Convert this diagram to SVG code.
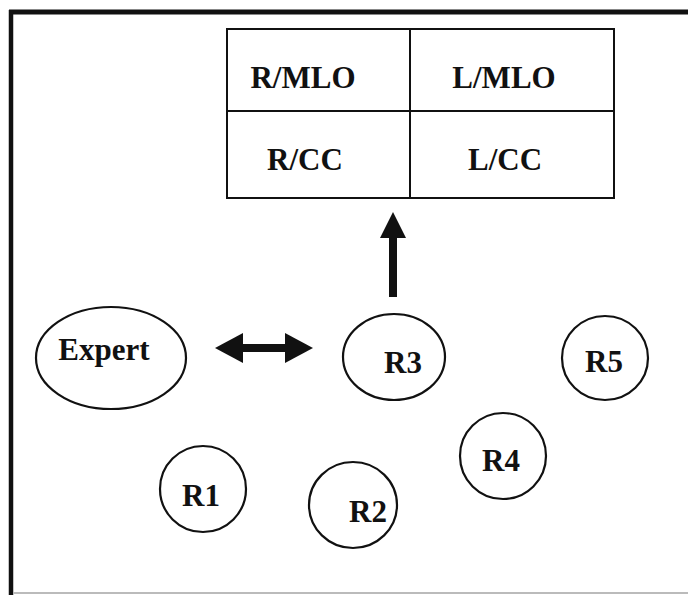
<svg xmlns="http://www.w3.org/2000/svg" width="688" height="595" viewBox="0 0 688 595">
<style>
.t{font-family:"Liberation Serif","Times New Roman",serif;font-weight:bold;font-size:31px;fill:#111;text-anchor:middle}
.n{fill:#fff;stroke:#111;stroke-width:2.2}
.g{stroke:#111;stroke-width:2;fill:none}
</style>
<rect width="688" height="595" fill="#fff"/>
<g id="frame">
<line x1="9" y1="12" x2="688" y2="12" stroke="#111" stroke-width="5"/>
<line x1="11" y1="10" x2="11" y2="595" stroke="#111" stroke-width="4.5"/>
<line x1="13" y1="593" x2="688" y2="593" stroke="#bbb" stroke-width="2"/>
</g>
<g id="views">
<rect class="g" x="227" y="29" width="387" height="169"/>
<line class="g" x1="410" y1="29" x2="410" y2="198"/>
<line class="g" x1="227" y1="111" x2="614" y2="111"/>
<text class="t" x="303" y="88">R/MLO</text>
<text class="t" x="504" y="88">L/MLO</text>
<text class="t" x="305" y="170">R/CC</text>
<text class="t" x="505" y="170">L/CC</text>
</g>
<g id="connectors" fill="#111">
<rect x="389" y="234" width="8" height="63"/>
<polygon points="380,238 393,212 406,238"/>
<rect x="238" y="344" width="52" height="8"/>
<polygon points="215,348 243,333 243,363"/>
<polygon points="313,348 285,333 285,363"/>
</g>
<g id="expert"><ellipse class="n" cx="111" cy="358" rx="75" ry="51"/><text class="t" x="104" y="360">Expert</text></g>
<g id="r3"><ellipse class="n" cx="394" cy="357" rx="51" ry="43"/><text class="t" x="403" y="373">R3</text></g>
<g id="r5"><ellipse class="n" cx="605" cy="358" rx="43" ry="42"/><text class="t" x="604" y="372">R5</text></g>
<g id="r1"><circle class="n" cx="203" cy="489" r="43"/><text class="t" x="201" y="506">R1</text></g>
<g id="r2"><ellipse class="n" cx="353" cy="505" rx="44" ry="43"/><text class="t" x="368" y="522">R2</text></g>
<g id="r4"><circle class="n" cx="503" cy="456" r="43"/><text class="t" x="501" y="471">R4</text></g>
</svg>
